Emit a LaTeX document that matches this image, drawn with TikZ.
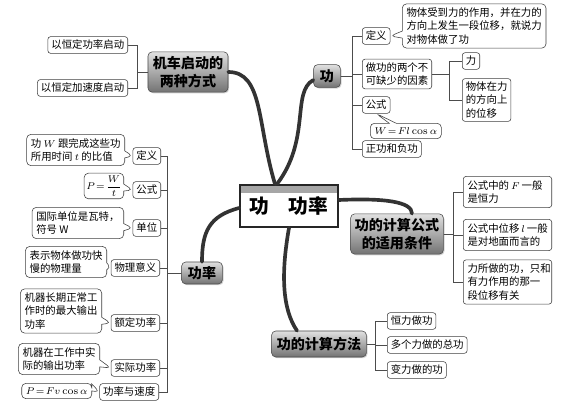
\documentclass[tikz,border=0pt]{standalone}
\usepackage{fontspec}
\newfontfamily\cjk{Noto Sans CJK SC}
\usetikzlibrary{positioning,calc,shapes.callouts,shadows}
\newcommand{\leaffont}{\cjk\fontsize{7.4}{9.3}\selectfont}
\newcommand{\topicfont}{\cjk\bfseries\fontsize{10}{13}\selectfont}
\tikzset{
  leaf/.style={rectangle, rounded corners=2pt, draw=black!75, fill=white,
    font=\leaffont, inner sep=2.5pt, align=left},
  note/.style={rectangle callout, rounded corners=3pt, draw=black!75, fill=white,
    font=\leaffont, inner sep=3pt, align=left, callout pointer width=5pt},
  topic/.style={rectangle, rounded corners=3pt, draw=black!70, top color=black!12,
    bottom color=black!55, font=\topicfont, align=center, inner sep=3pt,
    drop shadow={opacity=.35, shadow xshift=.8pt, shadow yshift=-.8pt}},
  branch/.style={line width=2.6pt, black!80, line cap=round},
  link/.style={black!70, line width=.5pt},
}

\begin{document}
\begin{tikzpicture}[x=0.025cm, y=-0.025cm]
\fill[white] (0,0) rectangle (568,412);
\useasboundingbox (0,0) rectangle (568,412);

% ================= CENTRE =================
\node[draw=black!85, line width=1.3pt, fill=white, minimum width=2.45cm,
  minimum height=1.05cm, font=\cjk\bfseries\fontsize{14}{16}\selectfont,
  path picture={\fill[black!35] (path picture bounding box.north west)
    rectangle ($(path picture bounding box.north east)+(0,-0.2cm)$);}]
  (hub) at (289,206) {\raisebox{-4pt}{功\quad 功率}};

% ================= TOPICS =================
\node[topic, minimum width=2cm, minimum height=0.97cm] (jiche) at (188,72) {机车启动的\\两种方式};
\node[topic, minimum width=0.67cm, minimum height=0.57cm] (gong) at (327,76) {功};
\node[topic, minimum width=2.27cm, minimum height=1cm] (gongshi) at (397,234) {功的计算公式\\的适用条件};
\node[topic, minimum width=1.02cm, minimum height=0.55cm] (gonglv) at (202,273) {功率};
\node[topic, minimum width=2.37cm, minimum height=0.65cm] (fangfa) at (319,344) {功的计算方法};

% ================= BRANCHES =================
\draw[branch] ($(hub.north)+(-14,0)$) .. controls +(-18,-60) and +(35,0) .. (jiche.east);
\draw[branch] ($(hub.north)+(-12,0)$) .. controls +(34,-45) and +(-22,12) .. ($(gong.west)+(0,4)$);
\draw[branch] ($(hub.west)+(0,2)$) .. controls +(-30,8) and +(0,-30) .. (gonglv.north);
\draw[branch] ($(hub.east)+(0,-6)$) .. controls +(45,-2) and +(0,-12) .. ($(gongshi.north)+(15,0)$);
\draw[branch] (hub.south) .. controls +(-8,45) and +(-15,-22) .. ($(fangfa.north)+(-22,0)$);

% ================= 机车启动 =================
\node[leaf, anchor=east] (js1) at (128,45) {以恒定功率启动};
\node[leaf, anchor=east] (js2) at (128,88) {以恒定加速度启动};
\foreach \n in {js1,js2}
  \draw[link] (jiche.west) -- ++(-10,0) |- (\n.east);

% ================= 功 =================
\node[leaf, anchor=west] (gdef) at (362,36) {定义};
\node[note, anchor=west, callout absolute pointer={(gdef.east)}] (gdefn) at (402,26)
  {物体受到力的作用，并在力的\\方向上发生一段位移，就说力\\对物体做了功};
\node[leaf, anchor=west] (gfac) at (362,74) {做功的两个不\\可缺少的因素};
\node[leaf, anchor=west] (gli) at (462,61) {力};
\node[leaf, anchor=west] (gwei) at (462,100) {物体在力\\的方向上\\的位移};
\node[leaf, anchor=west] (gfor) at (362,105) {公式};
\node[note, anchor=west, callout absolute pointer={(gfor.south)}] (gW) at (370,131)
  {$W\!=\!Fl\cos\alpha$};
\node[leaf, anchor=west] (gpn) at (362,149) {正功和负功};
\foreach \n in {gdef,gfac,gfor,gpn}
  \draw[link] (gong.east) -- ++(12,0) |- (\n.west);
\foreach \n in {gli,gwei}
  \draw[link] (gfac.east) -- ++(17,0) |- (\n.west);

% ================= 适用条件 =================
\node[leaf, anchor=west, text width=2cm, inner sep=3pt] (c1) at (463,192)
  {公式中的$\,F\,$一般\\是恒力};
\node[leaf, anchor=west, text width=2cm, inner sep=3pt] (c2) at (463,235)
  {公式中位移$\,l\,$一般\\是对地面而言的};
\node[leaf, anchor=west, text width=2cm, inner sep=3pt] (c3) at (463,282)
  {力所做的功，只和\\有力作用的那一\\段位移有关};
\foreach \n in {c1,c2,c3}
  \draw[link] (gongshi.east) -- ++(10,0) |- (\n.west);

% ================= 功率 =================
\node[leaf, anchor=east] (pdef) at (161,156) {定义};
\node[leaf, anchor=east] (pfor) at (161,190) {公式};
\node[leaf, anchor=east] (punit) at (161,228) {单位};
\node[leaf, anchor=east] (pmean) at (160,268) {物理意义};
\node[leaf, anchor=east] (prate) at (160,323) {额定功率};
\node[leaf, anchor=east] (pact) at (160,368) {实际功率};
\node[leaf, anchor=east] (pvel) at (159,392) {功率与速度};
\node[note, anchor=east, callout absolute pointer={(pdef.west)}] at (125,150)
  {功 $W$ 跟完成这些功\\所用时间 $t$ 的比值};
\node[note, anchor=east, callout absolute pointer={(pfor.west)}, inner sep=1.5pt] at (124,186)
  {$P\!=\!\displaystyle\frac{W}{t}$};
\node[note, anchor=east, callout absolute pointer={(punit.west)}] at (124,223)
  {国际单位是瓦特，\\符号 W};
\node[note, anchor=east, callout absolute pointer={(pmean.west)}] at (107,262)
  {表示物体做功快\\慢的物理量};
\node[note, anchor=east, callout absolute pointer={(prate.west)}] at (102,311)
  {机器长期正常工\\作时的最大输出\\功率};
\node[note, anchor=east, callout absolute pointer={(pact.west)}] at (100,359)
  {机器在工作中实\\际的输出功率};
\node[note, anchor=east, callout absolute pointer={(pvel.west)}] at (92,391)
  {$P\!=\!Fv\cos\alpha$};
\foreach \n in {pdef,pfor,punit,pmean,prate,pact,pvel}
  \draw[link] (gonglv.west) -- ++(-14,0) |- (\n.east);

% ================= 计算方法 =================
\node[leaf, anchor=west] (m1) at (387,321) {恒力做功};
\node[leaf, anchor=west] (m2) at (387,345) {多个力做的总功};
\node[leaf, anchor=west] (m3) at (387,370) {变力做的功};
\foreach \n in {m1,m2,m3}
  \draw[link] (fangfa.east) -- ++(9,0) |- (\n.west);

\end{tikzpicture}
\end{document}
